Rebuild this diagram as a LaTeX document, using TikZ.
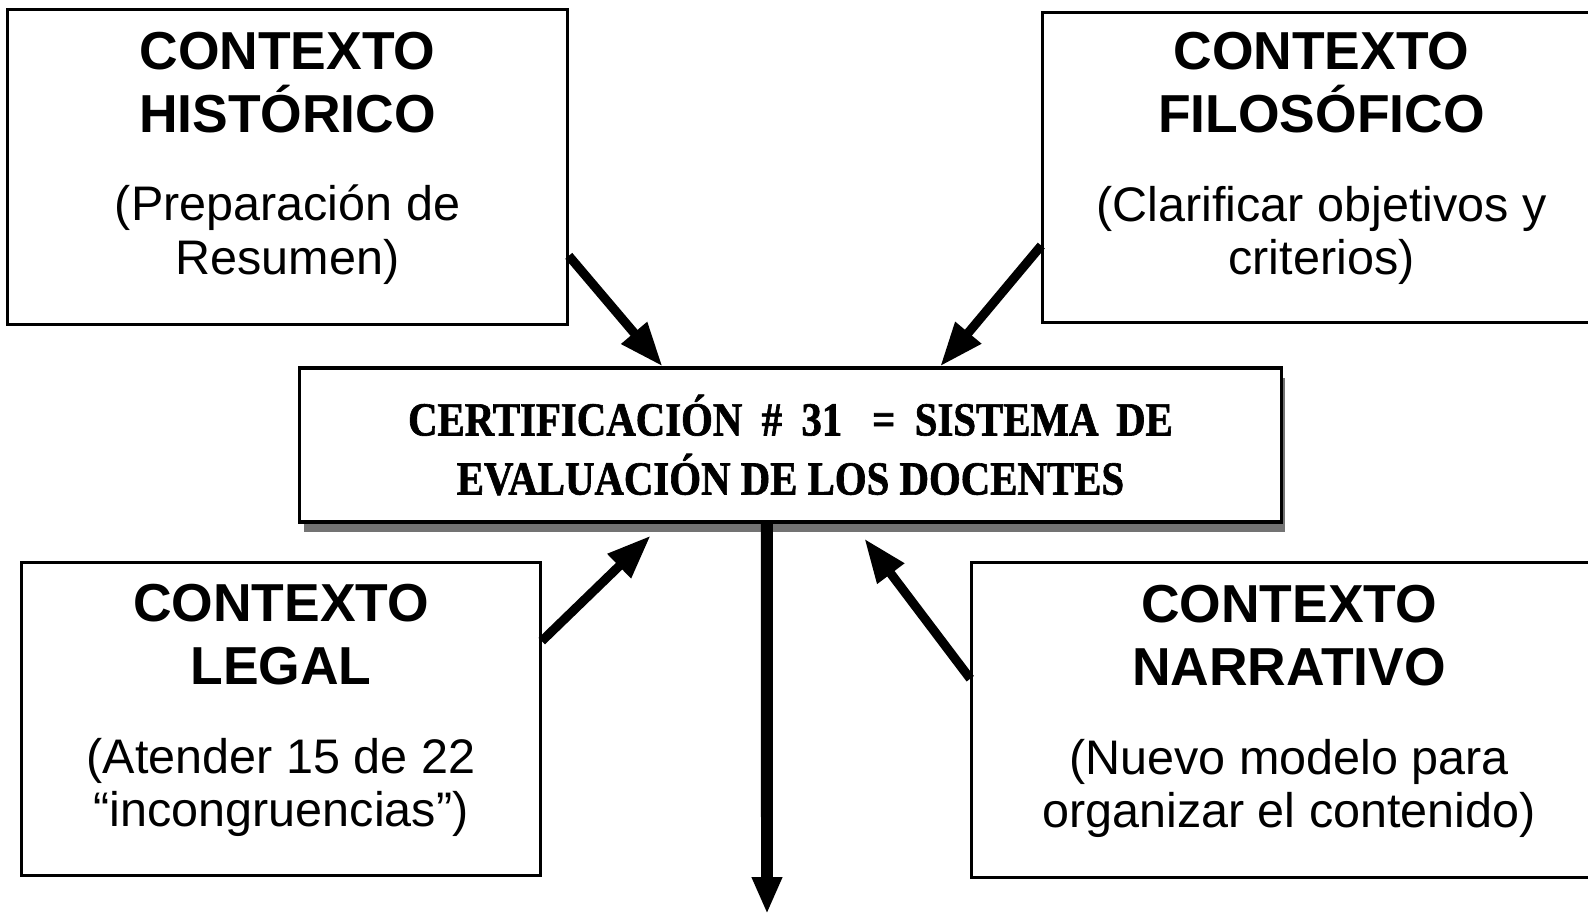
\documentclass[tikz,border=0pt]{standalone}
\usepackage{fontspec}
\setmainfont{Liberation Sans}
\newfontfamily\certfont[FakeStretch=0.86,FakeBold=1.3]{Liberation Serif}
\usetikzlibrary{calc,arrows.meta,shadows}

\newcommand{\titulo}[1]{{\fontsize{15.2}{17.9}\selectfont\bfseries #1}}
\newcommand{\pie}{\rule[-8pt]{0pt}{8pt}}

\tikzset{
  caja/.style={draw, line width=0.9pt, align=center, inner sep=0pt,
    font=\fontsize{13.8}{15.1}\selectfont},
  centro/.style={draw, fill=white, line width=0.9pt, align=center, inner sep=0pt,
    font=\fontsize{13.5}{16.8}\selectfont\certfont\bfseries,
    drop shadow={shadow xshift=0.04cm, shadow yshift=-0.1cm, fill=black!55, opacity=1}},
  flecha/.style={line width=2.6pt, -{Triangle[length=12.5pt,width=9pt]}},
  flechagrande/.style={line width=3.4pt, -{Triangle[length=10.5pt,width=8pt]}}
}

\begin{document}
\begin{tikzpicture}[x=0.01cm, y=-0.01cm]

\useasboundingbox (0,0) rectangle (1588,916);

\node[caja, minimum width=5.59cm, minimum height=3.14cm] (hist) at (287.5,167)
    {\titulo{CONTEXTO}\\[2.8pt]\titulo{HISTÓRICO}\\[10.2pt](Preparación de\\Resumen)\pie};
\node[caja, minimum width=5.57cm, minimum height=3.09cm] (filo) at (1321.5,167.5)
    {\titulo{CONTEXTO}\\[2.8pt]\titulo{FILOSÓFICO}\\[10.2pt](Clarificar objetivos y\\criterios)\pie};
\node[centro, minimum width=9.81cm, minimum height=1.54cm] (cert) at (790.5,445)
    {CERTIFICACIÓN\hspace{5.5pt}\#\hspace{5.5pt}31\hspace{8.5pt}=\hspace{5.5pt}SISTEMA\hspace{5pt}DE\\EVALUACIÓN DE LOS DOCENTES};
\node[caja, minimum width=5.18cm, minimum height=3.12cm] (legal) at (281,719)
    {\titulo{CONTEXTO}\\[2.8pt]\titulo{LEGAL}\\[10.2pt](Atender 15 de 22\\“incongruencias”)\pie};
\node[caja, minimum width=6.34cm, minimum height=3.14cm] (narr) at (1289,720)
    {\titulo{CONTEXTO}\\[2.8pt]\titulo{NARRATIVO}\\[10.2pt](Nuevo modelo para\\organizar el contenido)\pie};

\coordinate (fin) at (767,914);

\draw[flecha] ($(hist.north east)!0.78!(hist.south east)$) -- ($(cert.north west)!0.37!(cert.north east)$);
\draw[flecha] ($(filo.north west)!0.75!(filo.south west)$) -- ($(cert.north west)!0.652!(cert.north east)$);
\draw[flecha] ($(legal.north east)!0.253!(legal.south east)$) -- ($(cert.south west)!0.358!(cert.south east)+(0,12)$);
\draw[flecha] ($(narr.north west)!0.37!(narr.south west)$) -- ($(cert.south west)!0.575!(cert.south east)+(0,15)$);
\draw[flechagrande] ($(cert.south west)!0.476!(cert.south east)$) -- (fin);

\end{tikzpicture}
\end{document}
